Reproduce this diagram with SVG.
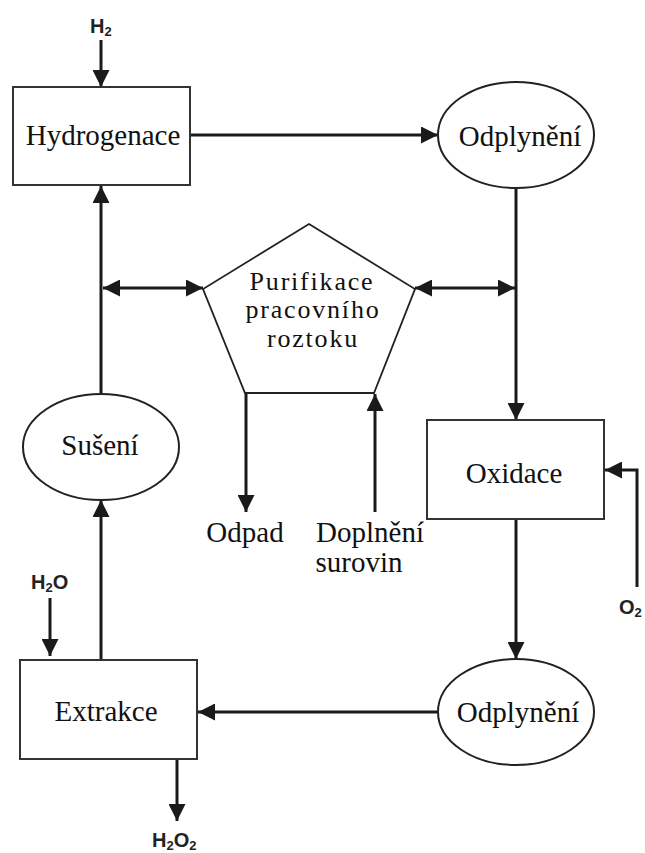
<svg xmlns="http://www.w3.org/2000/svg" width="645" height="853" viewBox="0 0 645 853">
<style>
.box{fill:#fff;stroke:#333;stroke-width:2}
.ell{fill:#fff;stroke:#222;stroke-width:2}
.lbl{font-family:"Liberation Serif","Times New Roman",serif;font-size:29px;fill:#111;text-anchor:middle}
.pl{font-size:26px;letter-spacing:1.8px}
.chem{font-family:"Liberation Sans",Arial,sans-serif;font-weight:bold;font-size:20px;fill:#222}
.sub{font-size:13px}
.c{fill:none;stroke:#1a1a1a;stroke-width:3}
.ah{marker-end:url(#arr)}
.dbl{marker-start:url(#arr);marker-end:url(#arr)}
</style>
<defs>
<marker id="arr" markerUnits="userSpaceOnUse" markerWidth="17" markerHeight="17" refX="16" refY="8" orient="auto-start-reverse" viewBox="0 0 16 16">
<path d="M0,0 L16,8 L0,16 z" fill="#1a1a1a"/>
</marker>
</defs>
<rect width="645" height="853" fill="#fff"/>
<g id="connectors">
<line class="c ah" x1="101" y1="40" x2="101" y2="87"/>
<line class="c ah" x1="190" y1="135" x2="438" y2="135"/>
<line class="c ah" x1="516" y1="188" x2="516" y2="420"/>
<path class="c ah" d="M637,587 V470 H605"/>
<line class="c ah" x1="516" y1="519" x2="516" y2="659"/>
<line class="c ah" x1="438" y1="712" x2="198" y2="712"/>
<line class="c ah" x1="50" y1="598" x2="50" y2="656"/>
<line class="c ah" x1="177" y1="759" x2="177" y2="821"/>
<line class="c ah" x1="101" y1="660" x2="101" y2="500"/>
<line class="c ah" x1="101" y1="393" x2="101" y2="186"/>
<line class="c dbl" x1="103" y1="288" x2="203" y2="288"/>
<line class="c dbl" x1="415" y1="288" x2="515" y2="288"/>
<line class="c ah" x1="246" y1="393" x2="246" y2="512"/>
<line class="c ah" x1="375" y1="512" x2="375" y2="394"/>
</g>
<g id="h2">
<text class="chem" x="90" y="33">H<tspan class="sub" dy="3">2</tspan></text>
</g>
<g id="hydrogenace">
<rect class="box" x="13" y="87" width="177" height="98"/>
<text class="lbl" x="103" y="145">Hydrogenace</text>
</g>
<g id="odplyneni1">
<ellipse class="ell" cx="516" cy="135" rx="78" ry="53"/>
<text class="lbl" x="520" y="146">Odplynění</text>
</g>
<g id="purifikace">
<polygon points="309,224 415,289 374,393 245,393 203,289" fill="#fff" stroke="#222" stroke-width="1.8"/>
<text class="lbl pl" x="312" y="290">Purifikace</text>
<text class="lbl pl" x="313" y="318">pracovního</text>
<text class="lbl pl" x="313" y="347">roztoku</text>
</g>
<g id="oxidace">
<rect class="box" x="427" y="420" width="177" height="99"/>
<text class="lbl" x="514" y="483">Oxidace</text>
</g>
<g id="o2">
<text class="chem" x="619" y="614">O<tspan class="sub" dy="3">2</tspan></text>
</g>
<g id="odplyneni2">
<ellipse class="ell" cx="516" cy="712" rx="78" ry="53"/>
<text class="lbl" x="518" y="722">Odplynění</text>
</g>
<g id="extrakce">
<rect class="box" x="20" y="660" width="177" height="99"/>
<text class="lbl" x="106" y="721">Extrakce</text>
</g>
<g id="h2o">
<text class="chem" x="31" y="589">H<tspan class="sub" dy="3">2</tspan><tspan dy="-3">O</tspan></text>
</g>
<g id="h2o2">
<text class="chem" x="152" y="847">H<tspan class="sub" dy="3">2</tspan><tspan dy="-3">O</tspan><tspan class="sub" dy="3">2</tspan></text>
</g>
<g id="suseni">
<ellipse class="ell" cx="101" cy="447" rx="78" ry="53"/>
<text class="lbl" x="100" y="455">Sušení</text>
</g>
<g id="odpad">
<text class="lbl" x="245" y="542">Odpad</text>
</g>
<g id="doplneni">
<text class="lbl" x="370" y="542">Doplnění</text>
<text class="lbl" x="359" y="572">surovin</text>
</g>
</svg>
